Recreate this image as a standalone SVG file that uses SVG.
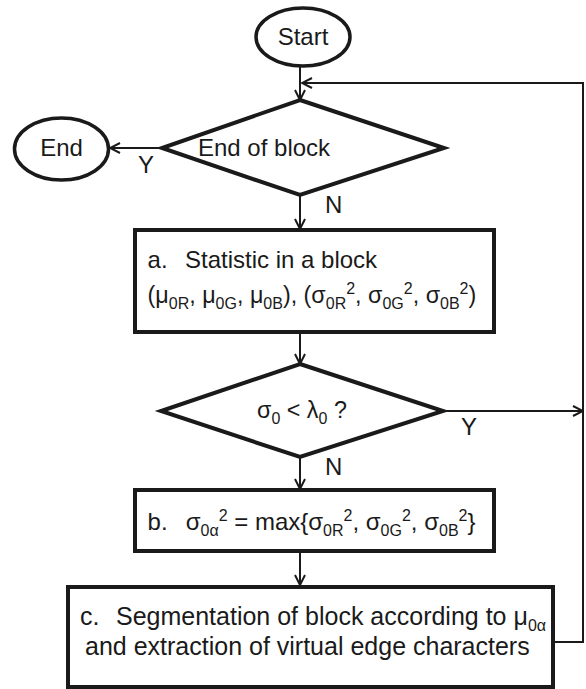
<svg xmlns="http://www.w3.org/2000/svg" width="586" height="689" viewBox="0 0 586 689">
<style>
text{font-family:"Liberation Sans",Arial,sans-serif;font-size:24px;fill:#1a1a1a}
.s{font-size:16px}
.big{font-size:25px}
.sm{font-size:23.3px}
.shape{fill:#fff;stroke:#1a1a1a;stroke-width:4;stroke-linejoin:miter}
.term{fill:#fff;stroke:#1a1a1a;stroke-width:3.5}
.conn{fill:none;stroke:#1a1a1a;stroke-width:2}
</style>
<defs>
<marker id="arr" markerUnits="userSpaceOnUse" viewBox="0 0 12 12" refX="11" refY="6" markerWidth="12" markerHeight="12" orient="auto">
<path d="M1,1 L11,6 L1,11" fill="none" stroke="#1a1a1a" stroke-width="2"/>
</marker>
</defs>
<g id="connectors">
<line class="conn" x1="300" y1="67" x2="300" y2="100" marker-end="url(#arr)"/>
<line class="conn" x1="162" y1="148" x2="110" y2="148" marker-end="url(#arr)"/>
<line class="conn" x1="300" y1="196" x2="300" y2="229" marker-end="url(#arr)"/>
<line class="conn" x1="300" y1="333" x2="300" y2="364" marker-end="url(#arr)"/>
<line class="conn" x1="300" y1="458" x2="300" y2="489" marker-end="url(#arr)"/>
<line class="conn" x1="300" y1="552" x2="300" y2="585" marker-end="url(#arr)"/>
<line class="conn" x1="443" y1="411" x2="583" y2="411" marker-end="url(#arr)"/>
<polyline class="conn" points="553,642 583,642 583,83 302,83" marker-end="url(#arr)"/>
<text x="138" y="173">Y</text>
<text x="325" y="213">N</text>
<text x="461" y="435">Y</text>
<text x="325" y="475">N</text>
</g>
<g id="start">
<ellipse class="term" cx="303" cy="37" rx="47" ry="29"/>
<text x="303" y="45" text-anchor="middle">Start</text>
</g>
<g id="end">
<ellipse class="term" cx="61.5" cy="149" rx="47" ry="31"/>
<text x="61.5" y="156" text-anchor="middle">End</text>
</g>
<g id="decision1">
<polygon class="shape" points="300,100 444,148 300,195 162,148"/>
<text x="198" y="156">End of block</text>
</g>
<g id="stepA">
<rect class="shape" x="135" y="230" width="359" height="102"/>
<text x="147.6" y="268">a.<tspan x="185">Statistic in a block</tspan></text>
<text class="sm" x="147.6" y="303">(μ<tspan class="s" dy="6">0R</tspan><tspan dy="-6">, μ</tspan><tspan class="s" dy="6">0G</tspan><tspan dy="-6">, μ</tspan><tspan class="s" dy="6">0B</tspan><tspan dy="-6">), (σ</tspan><tspan class="s" dy="6">0R</tspan><tspan class="s" dy="-15">2</tspan><tspan dy="9">, σ</tspan><tspan class="s" dy="6">0G</tspan><tspan class="s" dy="-15">2</tspan><tspan dy="9">, σ</tspan><tspan class="s" dy="6">0B</tspan><tspan class="s" dy="-15">2</tspan><tspan dy="9">)</tspan></text>
</g>
<g id="decision2">
<polygon class="shape" points="300,364 443,411 300,457 161,411"/>
<text class="sm" x="257" y="418">σ<tspan class="s" dy="6">0</tspan><tspan dy="-6"> &lt; λ</tspan><tspan class="s" dy="6">0</tspan><tspan dy="-6"> ?</tspan></text>
</g>
<g id="stepB">
<rect class="shape" x="135" y="490" width="359" height="61"/>
<text x="147.6" y="530">b.<tspan x="185.7">σ</tspan><tspan class="s" dy="6">0α</tspan><tspan class="s" dy="-15">2</tspan><tspan dy="9">  = max{σ</tspan><tspan class="s" dy="6">0R</tspan><tspan class="s" dy="-15">2</tspan><tspan dy="9">, σ</tspan><tspan class="s" dy="6">0G</tspan><tspan class="s" dy="-15">2</tspan><tspan dy="9">, σ</tspan><tspan class="s" dy="6">0B</tspan><tspan class="s" dy="-15">2</tspan><tspan dy="9">}</tspan></text>
</g>
<g id="stepC">
<rect class="shape" x="68" y="587" width="485" height="100"/>
<text class="big" x="80" y="625">c.<tspan x="116">Segmentation of block according to μ</tspan><tspan class="s" dy="6">0α</tspan></text>
<text class="big" x="85" y="655">and extraction of virtual edge characters</text>
</g>
</svg>
